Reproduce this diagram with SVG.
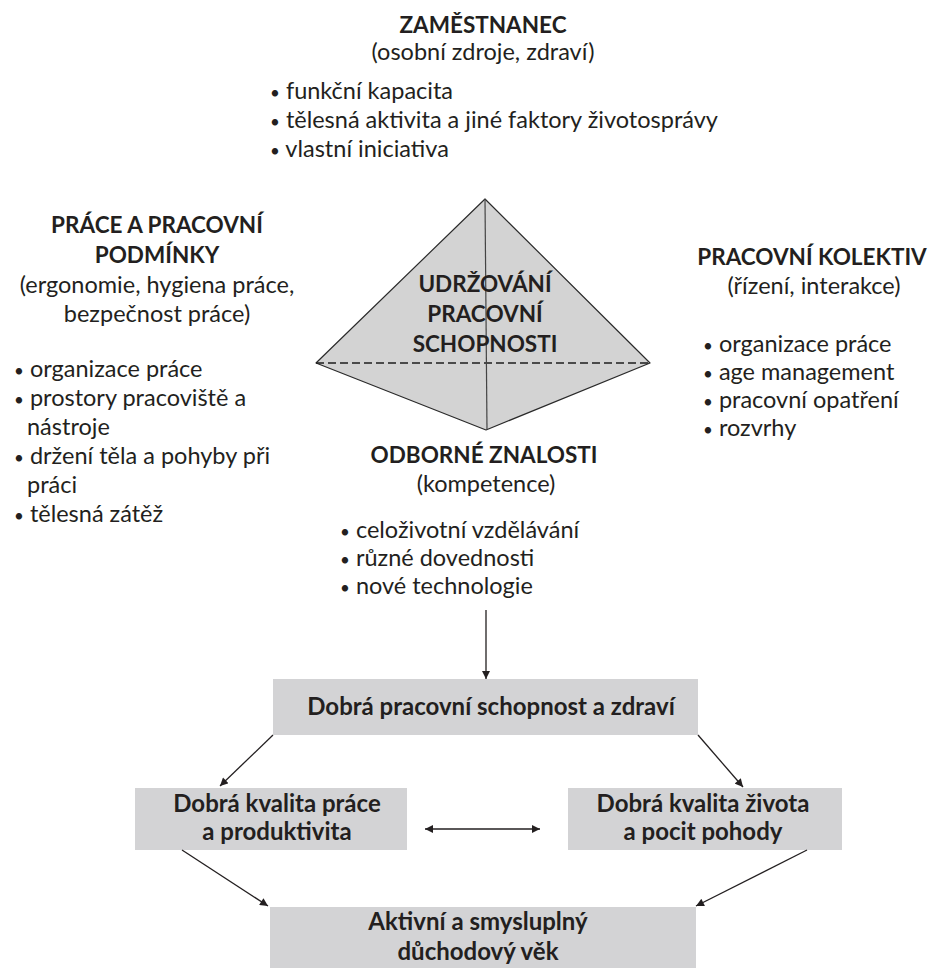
<svg xmlns="http://www.w3.org/2000/svg" width="932" height="968" viewBox="0 0 932 968">
<defs>
<style>
.h{font-family:Lato,"Liberation Sans",sans-serif;font-weight:bold;font-size:22.5px;fill:#231f20;text-anchor:middle}
.bx{font-size:24px}
.r{font-family:Lato,"Liberation Sans",sans-serif;font-size:23.5px;fill:#231f20}
.c{text-anchor:middle}
.b{font-size:17px}
.box{fill:#d3d3d5}
.con{stroke:#231f20;stroke-width:1.3;fill:none}
</style>
<marker id="ah" viewBox="0 0 10 10" refX="10" refY="5" markerWidth="9" markerHeight="8" markerUnits="userSpaceOnUse" orient="auto-start-reverse">
<path d="M0,0 L10,5 L0,10 z" fill="#231f20"/>
</marker>
</defs>
<rect width="932" height="968" fill="#ffffff"/>

<g id="zamestnanec">
<text class="h" x="483" y="33">ZAMĚSTNANEC</text>
<text class="r c" x="483" y="60">(osobní zdroje, zdraví)</text>
<text class="r" x="270" y="99"><tspan class="b">•</tspan> funkční kapacita</text>
<text class="r" x="270" y="128"><tspan class="b">•</tspan> tělesná aktivita a jiné faktory životosprávy</text>
<text class="r" x="270" y="157"><tspan class="b">•</tspan> vlastní iniciativa</text>
</g>

<g id="prace">
<text class="h" x="157" y="233">PRÁCE A PRACOVNÍ</text>
<text class="h" x="157" y="263">PODMÍNKY</text>
<text class="r c" x="157" y="293">(ergonomie, hygiena práce,</text>
<text class="r c" x="157" y="322">bezpečnost práce)</text>
<text class="r" x="14" y="377"><tspan class="b">•</tspan> organizace práce</text>
<text class="r" x="14" y="406"><tspan class="b">•</tspan> prostory pracoviště a</text>
<text class="r" x="27" y="435">nástroje</text>
<text class="r" x="14" y="464"><tspan class="b">•</tspan> držení těla a pohyby při</text>
<text class="r" x="27" y="493">práci</text>
<text class="r" x="14" y="522"><tspan class="b">•</tspan> tělesná zátěž</text>
</g>

<g id="kolektiv">
<text class="h" x="812" y="265">PRACOVNÍ KOLEKTIV</text>
<text class="r c" x="814" y="294">(řízení, interakce)</text>
<text class="r" x="703" y="352"><tspan class="b">•</tspan> organizace práce</text>
<text class="r" x="703" y="380"><tspan class="b">•</tspan> age management</text>
<text class="r" x="703" y="408"><tspan class="b">•</tspan> pracovní opatření</text>
<text class="r" x="703" y="436"><tspan class="b">•</tspan> rozvrhy</text>
</g>

<g id="pyramida">
<polygon points="485,199 650,363 486,430 316,363" fill="#d3d3d3" stroke="#2a2a2a" stroke-width="1.2" stroke-linejoin="round"/>
<line x1="316" y1="363" x2="650" y2="363" stroke="#1e1e1e" stroke-width="1.3" stroke-dasharray="8,4"/>
<line x1="485" y1="199" x2="487" y2="430" stroke="#444444" stroke-width="1.2"/>
<text class="h" x="485" y="292">UDRŽOVÁNÍ</text>
<text class="h" x="485" y="322">PRACOVNÍ</text>
<text class="h" x="485" y="352">SCHOPNOSTI</text>
</g>

<g id="znalosti">
<text class="h" x="484" y="463">ODBORNÉ ZNALOSTI</text>
<text class="r c" x="486" y="492">(kompetence)</text>
<text class="r" x="340" y="538"><tspan class="b">•</tspan> celoživotní vzdělávání</text>
<text class="r" x="340" y="566"><tspan class="b">•</tspan> různé dovednosti</text>
<text class="r" x="340" y="594"><tspan class="b">•</tspan> nové technologie</text>
</g>

<g id="schopnost">
<rect class="box" x="273" y="679" width="425" height="56"/>
<text class="h bx" x="491" y="715">Dobrá pracovní schopnost a zdraví</text>
</g>

<g id="kvalita-prace">
<rect class="box" x="135" y="788" width="272" height="62"/>
<text class="h bx" x="277" y="812">Dobrá kvalita práce</text>
<text class="h bx" x="277" y="840">a produktivita</text>
</g>

<g id="kvalita-zivota">
<rect class="box" x="568" y="788" width="274" height="62"/>
<text class="h bx" x="703" y="812">Dobrá kvalita života</text>
<text class="h bx" x="703" y="840">a pocit pohody</text>
</g>

<g id="duchod">
<rect class="box" x="270" y="907" width="426" height="70"/>
<text class="h bx" x="478" y="930">Aktivní a smysluplný</text>
<text class="h bx" x="478" y="960">důchodový věk</text>
</g>

<g id="connectors">
<line class="con" x1="486" y1="610" x2="486" y2="679" marker-end="url(#ah)"/>
<line class="con" x1="273" y1="735" x2="220" y2="786" marker-end="url(#ah)"/>
<line class="con" x1="698" y1="735" x2="743" y2="787" marker-end="url(#ah)"/>
<line class="con" x1="425" y1="829" x2="540" y2="829" marker-start="url(#ah)" marker-end="url(#ah)"/>
<line class="con" x1="182" y1="850" x2="268" y2="906" marker-end="url(#ah)"/>
<line class="con" x1="807" y1="850" x2="696" y2="906" marker-end="url(#ah)"/>
</g>
</svg>
